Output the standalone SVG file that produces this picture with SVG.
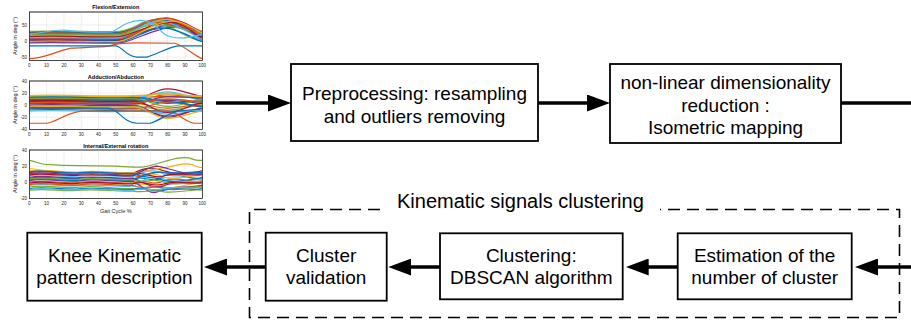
<svg xmlns="http://www.w3.org/2000/svg" width="911" height="322" viewBox="0 0 911 322">
<style>
.box{fill:#fff;stroke:#000;stroke-width:1.8}
.t{font-family:"Liberation Sans",Arial,Helvetica,sans-serif;font-size:19px;text-anchor:middle;fill:#000}
.lbl{font-family:"Liberation Sans",Arial,Helvetica,sans-serif;font-size:20px;fill:#000}
.conn{stroke:#000;stroke-width:3.5;fill:none}
.dash{stroke:#000;stroke-width:1.6;fill:none;stroke-dasharray:12 7}
.frame{fill:#fff;stroke:#262626;stroke-width:0.6}
.grid{stroke:#dedede;stroke-width:0.5;fill:none}
.tk{font-family:"Liberation Sans",Arial,sans-serif;font-size:4.5px;fill:#262626}
.xt{text-anchor:middle}
.yt{text-anchor:end}
.ttl{font-family:"Liberation Sans",Arial,sans-serif;font-size:5.5px;font-weight:bold;fill:#000;text-anchor:middle}
.al{font-family:"Liberation Sans",Arial,sans-serif;font-size:5.5px;fill:#262626;text-anchor:middle}
.cv path{fill:none;stroke-width:1.2;vector-effect:non-scaling-stroke}
.b{stroke:#0072BD}.o{stroke:#D95319}.y{stroke:#EDB120}.p{stroke:#7E2F8E}.g{stroke:#77AC30}.cy{stroke:#4DBEEE}.m{stroke:#A2142F}
</style>
<defs>
<marker id="ah" viewBox="0 0 23 17" markerWidth="23" markerHeight="17" refX="13" refY="8.5" orient="auto" markerUnits="userSpaceOnUse">
<path d="M0,0 L23,8.5 L0,17 z" fill="#000"/>
</marker>
<clipPath id="c1"><rect x="29.3" y="12" width="173" height="48.3"/></clipPath>
<clipPath id="c2"><rect x="29.3" y="81" width="173" height="48.3"/></clipPath>
<clipPath id="c3"><rect x="29.3" y="150" width="173" height="48.3"/></clipPath>
</defs>

<!-- Plot 1: Flexion/Extension -->
<g id="plot-flexion">
<rect class="frame" x="29.3" y="12" width="173" height="48.3"/>
<path class="grid" d="M46.6,12V60.3M63.9,12V60.3M81.2,12V60.3M98.5,12V60.3M115.8,12V60.3M133.1,12V60.3M150.4,12V60.3M167.7,12V60.3M185,12V60.3M29.3,24.9H202.3M29.3,41H202.3M29.3,57.1H202.3"/>
<g clip-path="url(#c1)"><g class="cv" transform="translate(29.3,41) scale(1.73,-0.322)">
<path class="b" d="M0,20 C20,24 40,16 52,20 C60,23 66,60 78,60 C86,60 96,14 100,10"/>
<path class="o" d="M0,10 C20,14 40,6 52,10 C60,13 68,55 80,55 C88,55 96,24 100,20"/>
<path class="y" d="M0,5 C20,9 40,1 52,5 C60,8 70,50 82,50 C90,50 96,9 100,5"/>
<path class="p" d="M0,25 C20,29 40,21 52,25 C60,28 64,68 76,68 C84,68 96,29 100,25"/>
<path class="g" d="M0,15 C20,19 40,11 52,15 C60,18 60,62 72,62 C80,62 90,4 100,0"/>
<path class="cy" d="M0,0 C20,4 40,-4 52,0 C60,3 68,45 80,45 C88,45 96,19 100,15"/>
<path class="m" d="M0,28 C20,32 40,24 52,28 C60,31 68,70 80,70 C88,70 96,34 100,30"/>
<path class="b" d="M0,-3 C20,1 40,-7 52,-3 C60,0 72,52 84,52 C92,52 96,24 100,20"/>
<path class="o" d="M0,22 C20,26 40,18 52,22 C60,25 63,58 75,58 C83,58 96,16 100,12"/>
<path class="y" d="M0,12 C20,16 40,8 52,12 C60,15 67,65 79,65 C87,65 96,32 100,28"/>
<path class="p" d="M0,8 C20,12 40,4 52,8 C60,11 71,48 83,48 C91,48 96,12 100,8"/>
<path class="g" d="M0,30 C20,34 40,26 52,30 C60,33 65,66 77,66 C85,66 96,26 100,22"/>
<path class="cy" d="M0,18 C20,22 40,14 52,18 C60,21 58,55 70,55 C78,55 96,6 100,2"/>
<path class="m" d="M0,2 C20,6 40,-2 52,2 C60,5 70,60 82,60 C90,60 96,22 100,18"/>
<path class="b" d="M0,26 C20,30 40,22 52,26 C60,29 66,64 78,64 C86,64 96,31 100,27"/>
<path class="o" d="M0,6 C20,10 40,2 52,6 C60,9 69,57 81,57 C89,57 96,8 100,4"/>
<path class="y" d="M0,16 C20,20 40,12 52,16 C60,19 68,67 80,67 C88,67 96,18 100,14"/>
<path class="p" d="M0,-6 C20,-2 40,-10 52,-6 C60,-3 73,44 85,44 C93,44 96,14 100,10"/>
<path class="g" d="M0,20 C20,24 40,16 52,20 C60,23 62,50 74,50 C82,50 96,28 100,24"/>
<path class="cy" d="M0,10 C20,14 40,6 52,10 C60,13 64,62 76,62 C84,62 96,10 100,6"/>
<path class="m" d="M0,14 C20,18 40,10 52,14 C60,17 70,58 82,58 C90,58 96,16 100,12"/>
<path class="b" d="M0,4 C20,8 40,0 52,4 C60,7 66,40 78,40 C86,40 96,2 100,-2"/>
<path class="o" d="M0,24 C20,28 40,20 52,24 C60,27 67,72 79,72 C87,72 96,22 100,18"/>
<path class="y" d="M0,-1 C20,3 40,-5 52,-1 C60,2 71,62 83,62 C91,62 96,30 100,26"/>
<path class="cy" d="M0,22 C8,24 14,36 20,34 C28,30 42,26 48,28 C52,40 56,62 64,64 C70,65 74,40 78,22 C80,15 84,8 90,10 C95,12 98,18 100,22"/>
<path class="o" d="M0,-55 C8,-55 14,-35 24,-22 C30,-20 40,-20 46,-16 C50,-8 56,-6 62,-6 L84,-7 C90,-15 95,-45 100,-55"/>
<path class="b" d="M0,-15 L50,-15 C54,-18 56,-48 62,-50 L68,-50 C74,-40 80,-20 86,-15 L100,-15"/>
</g></g>
<rect x="29.3" y="12" width="173" height="48.3" fill="none" stroke="#262626" stroke-width="0.6"/>
<text class="ttl" x="115.8" y="9.2">Flexion/Extension</text>
<text class="tk yt" x="27" y="26.5">50</text>
<text class="tk yt" x="27" y="42.6">0</text>
<text class="tk yt" x="27" y="58.7">-50</text>
<g class="tk xt">
<text x="29.3" y="67.3">0</text><text x="46.6" y="67.3">10</text><text x="63.9" y="67.3">20</text><text x="81.2" y="67.3">30</text><text x="98.5" y="67.3">40</text><text x="115.8" y="67.3">50</text><text x="133.1" y="67.3">60</text><text x="150.4" y="67.3">70</text><text x="167.7" y="67.3">80</text><text x="185" y="67.3">90</text><text x="202.3" y="67.3">100</text>
</g>
<text class="al" transform="translate(16.8,36) rotate(-90)">Angle in deg (°)</text>
</g>

<!-- Plot 2: Adduction/Abduction -->
<g id="plot-adduction">
<rect class="frame" x="29.3" y="81" width="173" height="48.3"/>
<path class="grid" d="M46.6,81V129.3M63.9,81V129.3M81.2,81V129.3M98.5,81V129.3M115.8,81V129.3M133.1,81V129.3M150.4,81V129.3M167.7,81V129.3M185,81V129.3M29.3,93.07H202.3M29.3,105.15H202.3M29.3,117.2H202.3"/>
<g clip-path="url(#c2)"><g class="cv" transform="translate(29.3,105.15) scale(1.73,-0.604)">
<path class="b" d="M0,5 C20,8 40,2 60,5 C68,5 72,18 80,18 C88,18 95,10 100,10"/>
<path class="o" d="M0,12 C20,15 40,9 60,12 C68,12 72,15 80,15 C88,15 95,14 100,14"/>
<path class="y" d="M0,14 C20,17 40,11 60,14 C68,14 72,20 80,20 C88,20 95,12 100,12"/>
<path class="p" d="M0,0 C20,3 40,-3 60,0 C68,0 72,-20 80,-20 C88,-20 95,-5 100,-5"/>
<path class="g" d="M0,8 C20,11 40,5 60,8 C68,8 72,10 80,10 C88,10 95,5 100,5"/>
<path class="cy" d="M0,-5 C20,-2 40,-8 60,-5 C68,-5 72,-15 80,-15 C88,-15 95,-8 100,-8"/>
<path class="m" d="M0,10 C20,13 40,7 60,10 C68,10 72,27 80,27 C88,27 95,15 100,15"/>
<path class="b" d="M0,-8 C20,-5 40,-11 60,-8 C68,-8 72,-10 80,-10 C88,-10 95,-10 100,-10"/>
<path class="o" d="M0,3 C20,6 40,0 60,3 C68,3 72,-5 80,-5 C88,-5 95,2 100,2"/>
<path class="y" d="M0,15 C20,18 40,12 60,15 C68,15 72,12 80,12 C88,12 95,16 100,16"/>
<path class="p" d="M0,6 C20,9 40,3 60,6 C68,6 72,8 80,8 C88,8 95,3 100,3"/>
<path class="g" d="M0,-2 C20,1 40,-5 60,-2 C68,-2 72,-8 80,-8 C88,-8 95,0 100,0"/>
<path class="cy" d="M0,12 C20,15 40,9 60,12 C68,12 72,22 80,22 C88,22 95,8 100,8"/>
<path class="m" d="M0,-4 C20,-1 40,-7 60,-4 C68,-4 72,-18 80,-18 C88,-18 95,-6 100,-6"/>
<path class="b" d="M0,9 C20,12 40,6 60,9 C68,9 72,3 80,3 C88,3 95,7 100,7"/>
<path class="o" d="M0,-6 C20,-3 40,-9 60,-6 C68,-6 72,5 80,5 C88,5 95,-3 100,-3"/>
<path class="y" d="M0,16 C20,19 40,13 60,16 C68,16 72,18 80,18 C88,18 95,14 100,14"/>
<path class="p" d="M0,2 C20,5 40,-1 60,2 C68,2 72,14 80,14 C88,14 95,12 100,12"/>
<path class="g" d="M0,11 C20,14 40,8 60,11 C68,11 72,-2 80,-2 C88,-2 95,9 100,9"/>
<path class="cy" d="M0,-10 C20,-7 40,-13 60,-10 C68,-10 72,-12 80,-12 C88,-12 95,-8 100,-8"/>
<path class="m" d="M0,7 C20,10 40,4 60,7 C68,7 72,-12 80,-12 C88,-12 95,4 100,4"/>
<path class="b" d="M0,13 C20,16 40,10 60,13 C68,13 72,6 80,6 C88,6 95,-2 100,-2"/>
<path class="y" d="M0,-3 C20,0 40,-6 60,-3 C68,-3 72,-22 80,-22 C88,-22 95,-10 100,-10"/>
<path class="o" d="M0,4 C20,7 40,1 60,4 C68,4 72,10 80,10 C88,10 95,6 100,6"/>
<path class="o" d="M0,-30 L10,-30 C16,-28 20,-14 30,-10 L80,-10 C85,-10 88,-25 95,-30 L100,-30"/>
<path class="b" d="M0,-5 L46,-5 C52,-8 54,-28 62,-30 L70,-30 C76,-24 80,-14 86,-10 L100,-6"/>
</g></g>
<rect x="29.3" y="81" width="173" height="48.3" fill="none" stroke="#262626" stroke-width="0.6"/>
<text class="ttl" x="115.8" y="78.6">Adduction/Abduction</text>
<text class="tk yt" x="27" y="82.6">40</text>
<text class="tk yt" x="27" y="94.7">20</text>
<text class="tk yt" x="27" y="106.8">0</text>
<text class="tk yt" x="27" y="118.8">-20</text>
<text class="tk yt" x="27" y="130.9">-40</text>
<g class="tk xt">
<text x="29.3" y="135.6">0</text><text x="46.6" y="135.6">10</text><text x="63.9" y="135.6">20</text><text x="81.2" y="135.6">30</text><text x="98.5" y="135.6">40</text><text x="115.8" y="135.6">50</text><text x="133.1" y="135.6">60</text><text x="150.4" y="135.6">70</text><text x="167.7" y="135.6">80</text><text x="185" y="135.6">90</text><text x="202.3" y="135.6">100</text>
</g>
<text class="al" transform="translate(16.8,105) rotate(-90)">Angle in deg (°)</text>
</g>

<!-- Plot 3: Internal/External rotation -->
<g id="plot-rotation">
<rect class="frame" x="29.3" y="150" width="173" height="48.3"/>
<path class="grid" d="M46.6,150V198.3M63.9,150V198.3M81.2,150V198.3M98.5,150V198.3M115.8,150V198.3M133.1,150V198.3M150.4,150V198.3M167.7,150V198.3M185,150V198.3M29.3,166.1H202.3M29.3,182.2H202.3"/>
<g clip-path="url(#c3)"><g class="cv" transform="translate(29.3,182.2) scale(1.73,-0.805)">
<path class="b" d="M0,5 C10,9 20,2 30,5 C40,8 50,3 60,4 C66,10 72,-4 78,8 C86,14 94,0 100,6"/>
<path class="o" d="M0,10 C10,14 20,7 30,10 C40,12 50,8 60,9 C66,2 72,16 78,12 C86,6 94,14 100,10"/>
<path class="y" d="M0,-2 C10,2 20,-5 30,-2 C40,1 50,-3 60,-1 C66,-8 72,4 78,-6 C86,-10 94,2 100,-2"/>
<path class="p" d="M0,2 C10,6 20,-1 30,2 C40,5 50,0 60,1 C66,-6 70,-16 74,-12 C80,-4 90,-8 100,-4"/>
<path class="g" d="M0,-6 C10,-2 20,-9 30,-6 C40,-4 50,-9 60,-8 C66,-12 72,-2 78,-6 C86,-10 94,-4 100,-6"/>
<path class="cy" d="M0,8 C10,12 20,5 30,8 C40,10 50,6 60,7 C66,14 72,18 78,10 C86,4 94,12 100,8"/>
<path class="m" d="M0,12 C10,16 20,9 30,12 C40,14 50,10 60,11 C66,18 72,20 78,14 C86,8 94,12 100,14"/>
<path class="b" d="M0,-8 C10,-4 20,-11 30,-8 C40,-6 50,-10 60,-9 C66,-4 72,-14 78,-10 C86,-4 94,-12 100,-8"/>
<path class="o" d="M0,0 C10,4 20,-3 30,0 C40,3 50,-2 60,-1 C66,6 72,-6 78,2 C86,8 94,-2 100,2"/>
<path class="y" d="M0,14 C10,17 20,11 30,13 C40,15 50,11 60,12 C66,8 72,14 78,6 C86,2 94,10 100,8"/>
<path class="p" d="M0,6 C10,10 20,3 30,6 C40,8 50,4 60,5 C66,0 72,-10 78,-4 C86,2 94,-2 100,0"/>
<path class="g" d="M0,-10 C10,-7 20,-12 30,-10 C40,-8 50,-12 60,-11 C66,-14 72,-8 78,-12 C86,-14 94,-8 100,-10"/>
<path class="cy" d="M0,-4 C10,0 20,-7 30,-4 C40,-2 50,-6 60,-5 C66,2 72,12 78,4 C86,-4 94,4 100,0"/>
<path class="m" d="M0,9 C10,13 20,6 30,9 C40,11 50,7 60,8 C66,16 72,2 78,8 C86,14 94,6 100,10"/>
<path class="b" d="M0,3 C10,7 20,0 30,3 C40,6 50,1 60,2 C66,10 72,14 78,12 C86,10 94,14 100,12"/>
<path class="o" d="M0,-3 C10,1 20,-6 30,-3 C40,0 50,-5 60,-4 C66,-10 72,-2 78,-8 C86,-12 94,-6 100,-6"/>
<path class="y" d="M0,17 C10,14 20,12 30,10 C40,12 50,8 60,10 C66,14 72,16 78,18 C86,22 90,24 94,22 C96,20 98,18 100,18"/>
<path class="p" d="M0,11 C10,14 20,8 30,10 C40,12 50,8 60,9 C66,14 70,20 74,20 C80,18 90,8 100,10"/>
<path class="g" d="M0,4 C10,8 20,1 30,4 C40,6 50,2 60,3 C66,-2 72,6 78,0 C86,-6 94,2 100,-2"/>
<path class="cy" d="M0,-9 C10,-5 20,-12 30,-9 C40,-7 50,-11 60,-10 C66,-6 72,-12 78,-8 C86,-4 94,-10 100,-6"/>
<path class="m" d="M0,-1 C10,3 20,-4 30,-1 C40,2 50,-3 60,-2 C66,4 72,-8 78,-2 C86,4 94,-4 100,0"/>
<path class="b" d="M0,13 C10,16 20,10 30,12 C40,14 50,10 60,11 C66,4 72,8 78,2 C86,-2 94,6 100,4"/>
<path class="g" d="M0,27 C4,26 6,22 10,22 C14,22 16,21 20,21 L50,20 C56,19 62,18 66,19 C74,22 80,28 86,30 C90,31 92,31 94,29 C96,27 98,27 100,27"/>
</g></g>
<rect x="29.3" y="150" width="173" height="48.3" fill="none" stroke="#262626" stroke-width="0.6"/>
<text class="ttl" x="115.8" y="147.6">Internal/External rotation</text>
<text class="tk yt" x="27" y="151.6">40</text>
<text class="tk yt" x="27" y="167.7">20</text>
<text class="tk yt" x="27" y="183.8">0</text>
<text class="tk yt" x="27" y="199.9">-20</text>
<g class="tk xt">
<text x="29.3" y="205">0</text><text x="46.6" y="205">10</text><text x="63.9" y="205">20</text><text x="81.2" y="205">30</text><text x="98.5" y="205">40</text><text x="115.8" y="205">50</text><text x="133.1" y="205">60</text><text x="150.4" y="205">70</text><text x="167.7" y="205">80</text><text x="185" y="205">90</text><text x="202.3" y="205">100</text>
</g>
<text class="al" transform="translate(16.8,174) rotate(-90)">Angle in deg (°)</text>
<text class="al" x="115.8" y="212.5">Gait Cycle %</text>
</g>

<!-- Cluster group frame -->
<g id="cluster-group">
<path class="dash" d="M380,209.5 H249.5 V317.5 H899.5 V209.5 H660"/>
<text class="lbl" x="397" y="208">Kinematic signals clustering</text>
</g>

<!-- Connectors -->
<g id="connectors">
<path class="conn" d="M216,103 H281" marker-end="url(#ah)"/>
<path class="conn" d="M538,103 H600" marker-end="url(#ah)"/>
<path class="conn" d="M841,103 H911"/>
<path class="conn" d="M911,267 H865" marker-end="url(#ah)"/>
<path class="conn" d="M677.7,267 H635.7" marker-end="url(#ah)"/>
<path class="conn" d="M440,267 H398.3" marker-end="url(#ah)"/>
<path class="conn" d="M265.7,267 H214" marker-end="url(#ah)"/>
</g>

<!-- Nodes -->
<g id="preprocessing">
<rect class="box" x="291" y="64" width="247" height="77"/>
<text class="t" x="414.5" y="100">Preprocessing: resampling</text>
<text class="t" x="414.5" y="123">and outliers removing</text>
</g>
<g id="isomap">
<rect class="box" x="610" y="64" width="231" height="79"/>
<text class="t" x="725.5" y="89">non-linear dimensionality</text>
<text class="t" x="725.5" y="111.5">reduction :</text>
<text class="t" x="725.5" y="134">Isometric mapping</text>
</g>
<g id="estimation">
<rect class="box" x="677.7" y="233.3" width="174" height="66"/>
<text class="t" x="764.7" y="262">Estimation of the</text>
<text class="t" x="764.7" y="284">number of cluster</text>
</g>
<g id="dbscan">
<rect class="box" x="440" y="233.3" width="182.7" height="66"/>
<text class="t" x="531.3" y="262">Clustering:</text>
<text class="t" x="531.3" y="284">DBSCAN algorithm</text>
</g>
<g id="validation">
<rect class="box" x="265.7" y="232.7" width="121" height="68"/>
<text class="t" x="326.2" y="262">Cluster</text>
<text class="t" x="326.2" y="284">validation</text>
</g>
<g id="knee-pattern">
<rect class="box" x="27.3" y="232.7" width="174.4" height="68"/>
<text class="t" x="114.5" y="262">Knee Kinematic</text>
<text class="t" x="114.5" y="284">pattern description</text>
</g>
</svg>
